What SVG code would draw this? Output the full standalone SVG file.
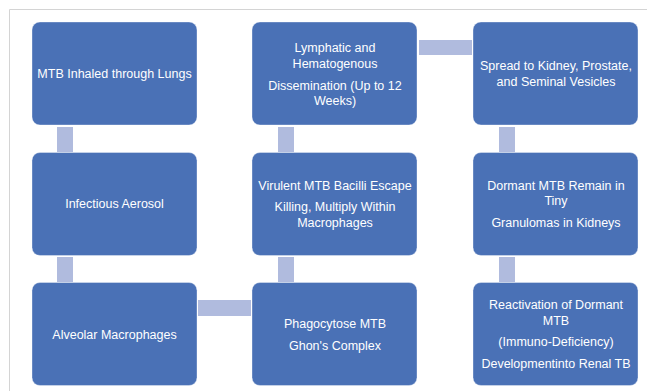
<svg xmlns="http://www.w3.org/2000/svg" width="647" height="391" viewBox="0 0 647 391">
<style>
.box{fill:#4a71b6;stroke:#ffffff;stroke-opacity:0.35;stroke-width:1}
.con{fill:#b0bbde}
text{font-family:"Liberation Sans",Arial,sans-serif;font-size:12.5px;fill:#ffffff;text-anchor:middle}
</style>
<rect width="647" height="391" fill="#ffffff"/>
<path d="M9.5 391V9.5H647" fill="none" stroke="#d4d4d4" stroke-width="1"/>
<g id="connectors">
<rect class="con" x="57" y="127" width="16" height="25"/>
<rect class="con" x="57" y="257" width="16" height="25"/>
<rect class="con" x="278" y="127" width="16" height="25"/>
<rect class="con" x="278" y="257" width="16" height="25"/>
<rect class="con" x="499" y="127" width="16" height="25"/>
<rect class="con" x="499" y="257" width="16" height="25"/>
<rect class="con" x="419" y="40" width="53" height="15"/>
<rect class="con" x="198" y="300" width="53" height="16"/>
</g>
<g id="n1">
<rect class="box" x="32" y="22" width="165" height="103" rx="8"/>
<text x="114.5" y="78">MTB Inhaled through Lungs</text>
</g>
<g id="n2">
<rect class="box" x="32" y="152.5" width="165" height="103" rx="8"/>
<text x="114.5" y="208">Infectious Aerosol</text>
</g>
<g id="n3">
<rect class="box" x="32" y="282.5" width="165" height="103" rx="8"/>
<text x="114.5" y="338.5">Alveolar Macrophages</text>
</g>
<g id="n4">
<rect class="box" x="252" y="282.5" width="165" height="103" rx="8"/>
<text x="335" y="328">Phagocytose MTB</text>
<text x="335" y="349.5">Ghon's Complex</text>
</g>
<g id="n5">
<rect class="box" x="252" y="152.5" width="165" height="103" rx="8"/>
<text x="335" y="189.5">Virulent MTB Bacilli Escape</text>
<text x="335" y="211">Killing, Multiply Within</text>
<text x="335" y="226.5">Macrophages</text>
</g>
<g id="n6">
<rect class="box" x="252" y="22" width="165" height="103" rx="8"/>
<text x="335" y="52">Lymphatic and</text>
<text x="335" y="67.5">Hematogenous</text>
<text x="335" y="89.5">Dissemination (Up to 12</text>
<text x="335" y="104.5">Weeks)</text>
</g>
<g id="n7">
<rect class="box" x="473" y="22" width="165" height="103" rx="8"/>
<text x="556" y="70">Spread to Kidney, Prostate,</text>
<text x="556" y="86">and Seminal Vesicles</text>
</g>
<g id="n8">
<rect class="box" x="473" y="152.5" width="165" height="103" rx="8"/>
<text x="556" y="189.5">Dormant MTB Remain in</text>
<text x="556" y="205">Tiny</text>
<text x="556" y="227">Granulomas in Kidneys</text>
</g>
<g id="n9">
<rect class="box" x="473" y="282.5" width="165" height="103" rx="8"/>
<text x="556" y="308.5">Reactivation of Dormant</text>
<text x="556" y="324.5">MTB</text>
<text x="556" y="346">(Immuno-Deficiency)</text>
<text x="556" y="367.5">Developmentinto Renal TB</text>
</g>
</svg>
